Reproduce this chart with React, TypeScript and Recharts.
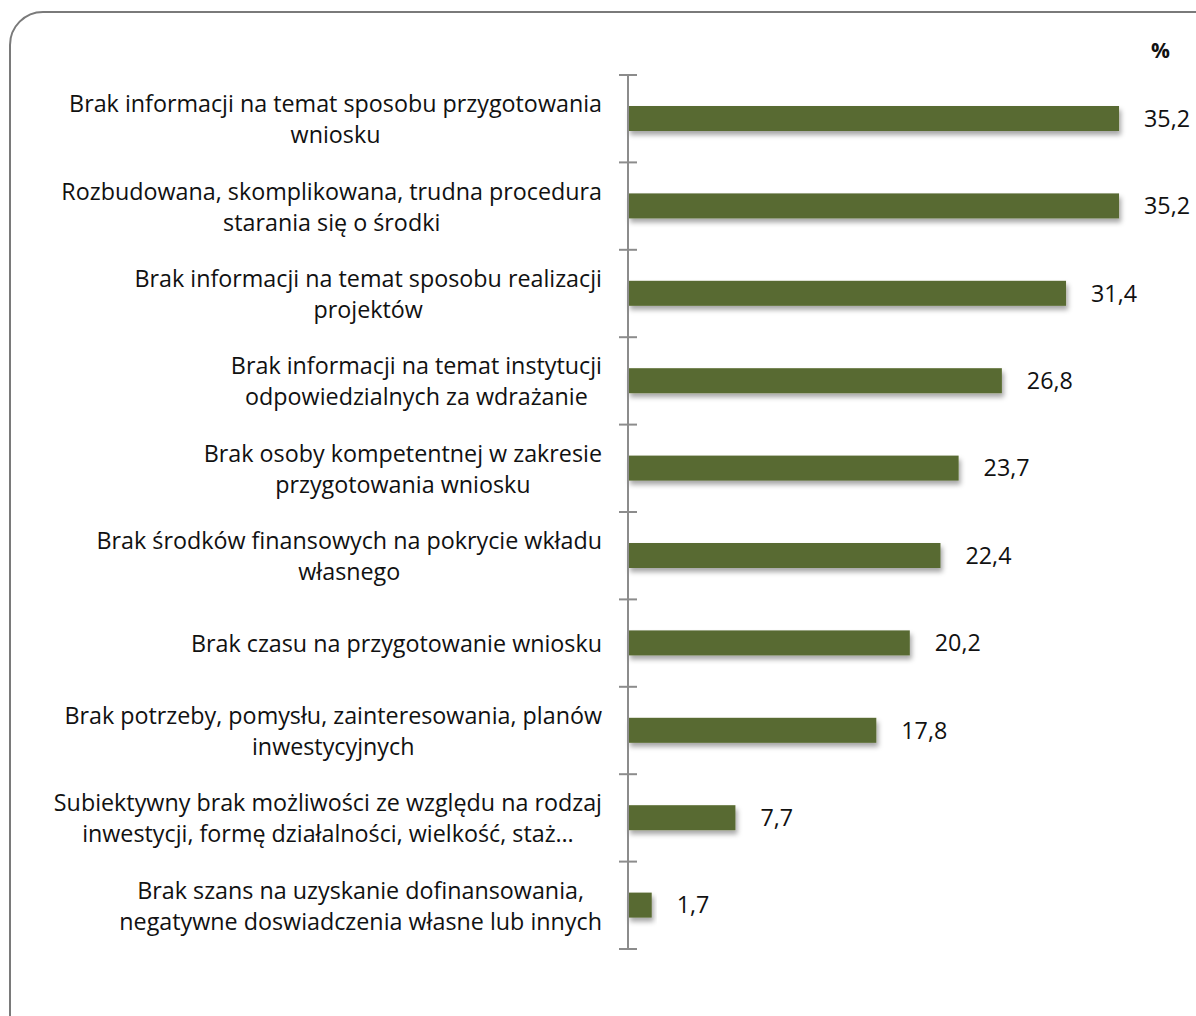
import { BarChart, Bar, XAxis, YAxis, LabelList } from "recharts";

const categories = [
  "Brak informacji na temat sposobu przygotowania\nwniosku",
  "Rozbudowana, skomplikowana, trudna procedura\nstarania się o środki",
  "Brak informacji na temat sposobu realizacji\nprojektów",
  "Brak informacji na temat instytucji\nodpowiedzialnych za wdrażanie",
  "Brak osoby kompetentnej w zakresie\nprzygotowania wniosku",
  "Brak środków finansowych na pokrycie wkładu\nwłasnego",
  "Brak czasu na przygotowanie wniosku",
  "Brak potrzeby, pomysłu, zainteresowania, planów\ninwestycyjnych",
  "Subiektywny brak możliwości ze względu na rodzaj\ninwestycji, formę działalności, wielkość, staż…",
  "Brak szans na uzyskanie dofinansowania,\nnegatywne doswiadczenia własne lub innych",
];
const values = [35.2, 35.2, 31.4, 26.8, 23.7, 22.4, 20.2, 17.8, 7.7, 1.7];

const data = categories.map((name, i) => ({ name, value: values[i] }));

const FONT = "'Open Sans', sans-serif";
const FONT_SIZE = 23.3;
const AXIS_X = 628;
const TOP = 75;
const BOTTOM = 67;
const H = 1016;
const BAND = (H - TOP - BOTTOM) / categories.length;

let ctx: CanvasRenderingContext2D | null = null;
function measure(s: string) {
  if (!ctx) ctx = document.createElement("canvas").getContext("2d");
  if (!ctx) return s.length * 12;
  ctx.font = `${FONT_SIZE}px 'Open Sans'`;
  return ctx.measureText(s).width;
}

const CategoryTick = (props: any) => {
  const { y, payload, index } = props;
  const lines: string[] = String(payload.value).split("\n");
  const maxW = Math.max(...lines.map(measure));
  const right = AXIS_X - 26;
  const cx = right - maxW / 2;
  const lh = 31;
  const y0 = y - ((lines.length - 1) * lh) / 2;
  return (
    <g>
      <line x1={AXIS_X - 9} x2={AXIS_X + 9} y1={y - BAND / 2} y2={y - BAND / 2} stroke="#8c8c8c" strokeWidth={2} />
      {index === categories.length - 1 && (
        <line x1={AXIS_X - 9} x2={AXIS_X + 9} y1={y + BAND / 2} y2={y + BAND / 2} stroke="#8c8c8c" strokeWidth={2} />
      )}
      {lines.map((l, i) => (
        <text
          key={i}
          x={cx}
          y={y0 + i * lh}
          textAnchor="middle"
          dominantBaseline="central"
          fontFamily={FONT}
          fontSize={FONT_SIZE}
          fill="#111"
        >
          {l}
        </text>
      ))}
    </g>
  );
};

const ShadowBar = (props: any) => {
  const { x, y, width, height, index } = props;
  const id = `shadow-${index}`;
  return (
    <g>
      <defs>
        <filter id={id} x="-20%" y="-50%" width="140%" height="250%">
          <feDropShadow dx={2} dy={4} stdDeviation={2.5} floodColor="#000" floodOpacity={0.35} />
        </filter>
      </defs>
      <rect x={x} y={y} width={width} height={height} fill="#586b30" filter={`url(#${id})`} />
    </g>
  );
};

export default function App() {
  return (
    <div style={{ position: "absolute", left: 0, top: 0, width: 1196, height: H, overflow: "hidden", background: "#fff" }}>
      <div
        style={{
          position: "absolute",
          left: 9,
          top: 11,
          width: 1240,
          height: 1060,
          border: "2.5px solid #7a7a7a",
          borderRadius: 34,
          boxSizing: "border-box",
        }}
      />
      <div
        style={{
          position: "absolute",
          left: 1151,
          top: 36,
          fontFamily: FONT,
          fontSize: 21,
          fontWeight: "bold",
          color: "#111",
        }}
      >
        %
      </div>
      <div style={{ position: "absolute", left: 0, top: 0 }}>
        <BarChart
          width={1196}
          height={H}
          data={data}
          layout="vertical"
          margin={{ top: TOP, bottom: BOTTOM, left: 0, right: 10 }}
          barSize={25}
        >
          <XAxis type="number" domain={[0, 40]} hide />
          <YAxis
            type="category"
            dataKey="name"
            width={AXIS_X}
            axisLine={{ stroke: "#8c8c8c", strokeWidth: 2 }}
            tickLine={false}
            tick={<CategoryTick />}
            interval={0}
          />
          <Bar dataKey="value" isAnimationActive={false} shape={<ShadowBar />}>
            <LabelList
              dataKey="value"
              position="right"
              offset={25}
              formatter={(v: any) => String(v).replace(".", ",")}
              style={{ fontFamily: FONT, fontSize: FONT_SIZE, fill: "#111" }}
            />
          </Bar>
        </BarChart>
      </div>
    </div>
  );
}
